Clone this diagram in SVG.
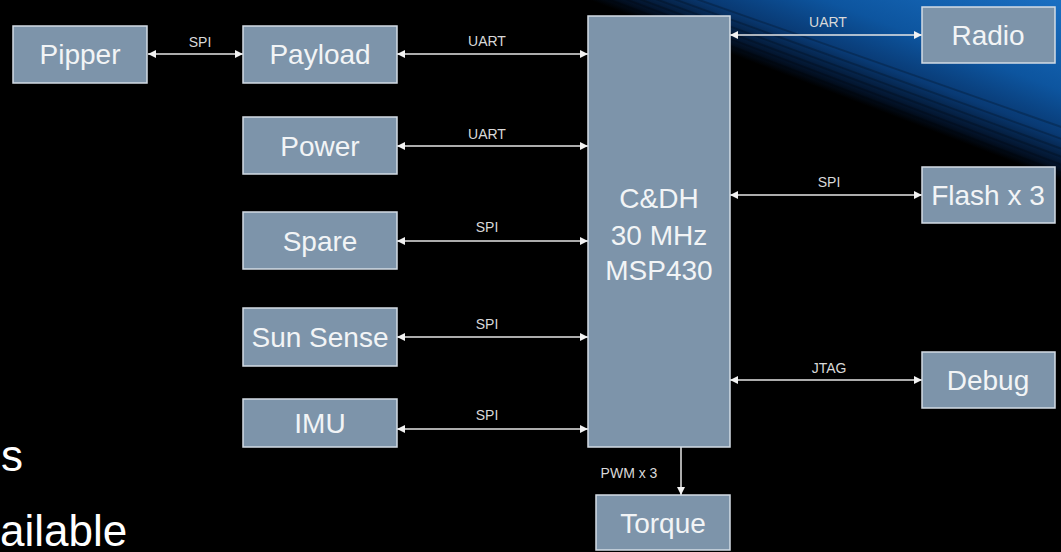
<svg xmlns="http://www.w3.org/2000/svg" width="1061" height="552" viewBox="0 0 1061 552">
<defs>
<linearGradient id="sky" gradientUnits="userSpaceOnUse" x1="825" y1="90" x2="885" y2="-67">
<stop offset="0" stop-color="#000000"/>
<stop offset="0.08" stop-color="#03132a"/>
<stop offset="0.25" stop-color="#093a74"/>
<stop offset="0.5" stop-color="#0d559f"/>
<stop offset="1" stop-color="#1a6fc2"/>
</linearGradient>
<marker id="ah" viewBox="0 0 10 10" refX="10" refY="5" markerWidth="8" markerHeight="8" markerUnits="userSpaceOnUse" orient="auto-start-reverse">
<path d="M0,0 L10,5 L0,10 Z" fill="#f2f2f2"/>
</marker>
<style>
.box{fill:#7d94aa;stroke:#d3dce5;stroke-width:1.5}
.nt{font-family:"Liberation Sans",Arial,sans-serif;font-size:28px;fill:#f2f4f6;text-anchor:middle}
.lb{font-family:"Liberation Sans",Arial,sans-serif;font-size:14px;fill:#d9d9d9;text-anchor:middle}
.ln{stroke:#e6e6e6;stroke-width:1.5;fill:none;marker-start:url(#ah);marker-end:url(#ah)}
.ln1{stroke:#e6e6e6;stroke-width:1.5;fill:none;marker-end:url(#ah)}
.bt{font-family:"Liberation Sans",Arial,sans-serif;font-size:44px;fill:#ffffff}
.streak{stroke:#000;stroke-opacity:0.22;stroke-width:2;fill:none}
</style>
</defs>
<rect width="1061" height="552" fill="#000"/>
<polygon points="580,0 1061,0 1061,200" fill="url(#sky)"/>
<g>
<line class="streak" x1="600" y1="-4" x2="1070" y2="176"/>
<line class="streak" x1="612" y1="-6" x2="1070" y2="168"/>
<line class="streak" x1="626" y1="-6" x2="1070" y2="160"/>
<line class="streak" x1="642" y1="-6" x2="1070" y2="152"/>
<line class="streak" x1="660" y1="-6" x2="1070" y2="142"/>
<line class="streak" x1="682" y1="-6" x2="1070" y2="130"/>
</g>
<text class="bt" x="1" y="471">s</text>
<text class="bt" x="0" y="546">ailable</text>
<g id="connectors">
<line class="ln" x1="148" y1="54" x2="243" y2="54"/>
<text class="lb" x="200" y="47">SPI</text>
<line class="ln" x1="397" y1="54" x2="588" y2="54"/>
<text class="lb" x="487" y="46">UART</text>
<line class="ln" x1="397" y1="146" x2="588" y2="146"/>
<text class="lb" x="487" y="139">UART</text>
<line class="ln" x1="397" y1="241" x2="588" y2="241"/>
<text class="lb" x="487" y="232">SPI</text>
<line class="ln" x1="397" y1="337" x2="588" y2="337"/>
<text class="lb" x="487" y="329">SPI</text>
<line class="ln" x1="397" y1="429" x2="588" y2="429"/>
<text class="lb" x="487" y="420">SPI</text>
<line class="ln" x1="730" y1="35" x2="922" y2="35"/>
<text class="lb" x="828" y="27">UART</text>
<line class="ln" x1="730" y1="195" x2="922" y2="195"/>
<text class="lb" x="829" y="187">SPI</text>
<line class="ln" x1="730" y1="380" x2="922" y2="380"/>
<text class="lb" x="829" y="373">JTAG</text>
<line class="ln1" x1="681" y1="447" x2="681" y2="495"/>
<text class="lb" x="629" y="478">PWM x 3</text>
</g>
<g id="pipper"><rect class="box" x="13" y="26" width="134" height="57"/><text class="nt" x="80" y="64">Pipper</text></g>
<g id="payload"><rect class="box" x="243" y="26" width="154" height="57"/><text class="nt" x="320" y="64">Payload</text></g>
<g id="power"><rect class="box" x="243" y="117" width="154" height="57"/><text class="nt" x="320" y="156">Power</text></g>
<g id="spare"><rect class="box" x="243" y="212" width="154" height="57"/><text class="nt" x="320" y="251">Spare</text></g>
<g id="sunsense"><rect class="box" x="243" y="308" width="154" height="58"/><text class="nt" x="320" y="347">Sun Sense</text></g>
<g id="imu"><rect class="box" x="243" y="399" width="154" height="48"/><text class="nt" x="320" y="433">IMU</text></g>
<g id="cdh"><rect class="box" x="588" y="16" width="142" height="431"/>
<text class="nt" x="659" y="208">C&amp;DH</text>
<text class="nt" x="659" y="245">30 MHz</text>
<text class="nt" x="659" y="280">MSP430</text></g>
<g id="radio"><rect class="box" x="922" y="7" width="133" height="56"/><text class="nt" x="988" y="45">Radio</text></g>
<g id="flash"><rect class="box" x="922" y="167" width="133" height="56"/><text class="nt" x="988" y="205">Flash x 3</text></g>
<g id="debug"><rect class="box" x="922" y="352" width="133" height="56"/><text class="nt" x="988" y="390">Debug</text></g>
<g id="torque"><rect class="box" x="596" y="495" width="134" height="55"/><text class="nt" x="663" y="533">Torque</text></g>
</svg>
